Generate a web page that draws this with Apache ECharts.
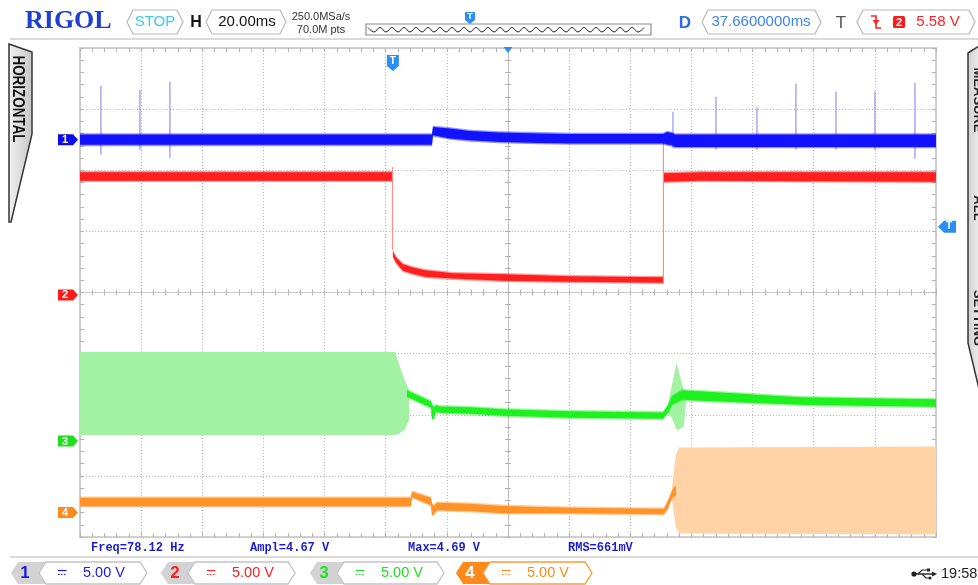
<!DOCTYPE html>
<html>
<head>
<meta charset="utf-8">
<title>RIGOL capture</title>
<script src="https://cdn.jsdelivr.net/npm/echarts@6/dist/echarts.min.js"></script>
<style>
html,body{margin:0;padding:0;background:#ffffff;overflow:hidden;}
#chart{width:978px;height:585px;}
</style>
</head>
<body>
<div id="chart"></div>
<script>
// ---------------- scope settings ----------------
const timePerDiv = 20;            // ms / div
const timeDivs = 14;
const timeDelay = 37.66;          // ms
const voltDivs = 8;
const chLabels = ['1', '2', '3', '4'];
const chVoltPerDiv = [5, 5, 5, 5];
const chOffsetV = [12.5, -0.2, -12.15, -18.0];
const triggerLevel = 5.58;        // V on CH2
const measureLabels = ['Freq=78.12 Hz', 'Ampl=4.67 V', 'Max=4.69 V', 'RMS=661mV'];
const chScaleLabels = ['5.00 V', '5.00 V', '5.00 V', '5.00 V'];

// ---------------- waveform envelopes (time ms, upper V, lower V) ----------------
// CH1
const ch1T  = [-102.35, 12.79, 13.12, 18.7, 25.2, 35.0, 48.1, 58.0, 88.4, 89.7, 91.3, 92.3, 177.65];
const ch1Hi = [0.53, 0.53, 1.15, 1.02, 0.82, 0.70, 0.62, 0.57, 0.57, 0.74, 0.65, 0.53, 0.53];
const ch1Lo = [-0.53, -0.53, 0.25, 0.0, -0.16, -0.29, -0.37, -0.41, -0.41, -0.49, -0.57, -0.70, -0.70];
const ch1SpikeT  = [-95.48, -82.73, -72.92, 91.62, 105.69, 119.10, 131.85, 144.94, 157.69, 170.78];
const ch1SpikeHi = [4.42, 4.09, 4.74, 2.29, 3.52, 2.62, 4.58, 3.93, 3.93, 4.66];
const ch1SpikeLo = [-1.23, -0.82, -1.47, -0.65, -0.82, -0.82, -0.82, -0.82, -0.82, -1.55];
// CH2
const ch2T  = [-102.35, -0.29, 0.03, 1.01, 3.30, 6.25, 10.5, 19.66, 36.0, 57.9, 88.35, 88.68, 100.5, 177.65];
const ch2Hi = [10.14, 10.14, 3.68, 3.19, 2.62, 2.37, 2.13, 1.88, 1.80, 1.64, 1.55, 10.06, 10.14, 10.14];
const ch2Lo = [9.24, 9.24, 3.03, 2.54, 1.88, 1.64, 1.39, 1.23, 1.06, 0.98, 0.90, 9.16, 9.24, 9.16];
const ch2EdgeT  = [-0.13, 88.5];
const ch2EdgeHi = [10.47, 12.84];
const ch2EdgeLo = [3.68, 0.90];
// CH3
const ch3PaleT  = [-102.35, 0.69, 2.0, 4.0, 5.3];
const ch3PaleHi = [7.28, 7.28, 6.30, 4.91, 4.17];
const ch3PaleLo = [0.49, 0.49, 0.57, 0.98, 1.72];
const ch3T  = [4.61, 8.86, 12.46, 12.79, 13.44, 14.1, 15.41, 25.22, 36.0, 57.9, 88.35, 90.0, 91.3, 94.6, 100.5, 116.8, 133.2, 152.8, 177.65];
const ch3Hi = [4.25, 3.76, 3.35, 3.11, 2.86, 3.03, 2.94, 2.86, 2.70, 2.54, 2.45, 3.03, 3.76, 4.25, 4.17, 3.93, 3.68, 3.60, 3.52];
const ch3Lo = [3.52, 3.03, 2.62, 1.72, 1.72, 2.29, 2.21, 2.13, 1.96, 1.80, 1.72, 2.21, 2.86, 3.27, 3.19, 3.03, 2.86, 2.78, 2.70];
const ch3BurstT  = [90.0, 91.3, 92.8, 93.9, 95.2, 95.9];
const ch3BurstHi = [3.03, 4.58, 6.38, 5.32, 4.17, 4.17];
const ch3BurstLo = [2.21, 1.88, 0.90, 0.98, 1.23, 3.19];
// CH4
const ch4T  = [-102.35, 5.92, 6.25, 12.46, 12.79, 13.44, 14.4, 25.22, 36.0, 57.9, 88.68, 90.0, 91.3, 92.6];
const ch4Hi = [1.31, 1.31, 1.80, 1.31, 0.82, 0.65, 0.90, 0.82, 0.65, 0.49, 0.41, 1.06, 1.88, 2.29];
const ch4Lo = [0.41, 0.41, 1.15, 0.49, -0.33, -0.25, 0.08, 0.0, -0.16, -0.16, -0.25, 0.25, 1.06, 1.31];
const ch4PaleT  = [91.3, 91.96, 92.6, 93.6, 177.65];
const ch4PaleHi = [2.04, 3.52, 4.74, 5.32, 5.40];
const ch4PaleLo = [1.06, -0.16, -1.23, -1.72, -1.80];

// ---------------- styling ----------------
const chColors = ['#1212ff', '#ff1f1f', '#1ff01f', '#ff9328'];
const chPale = ['#9090ff', '#ff8c8c', '#a3f1a3', '#ffd3a5'];
const chMarkColors = ['#0a0aee', '#ff1a1a', '#20dd20', '#ff8c1a'];
const chTextColors = ['#1a1ae0', '#ff2020', '#22e022', '#ff8c1a'];
const UI_FONT = '"Liberation Sans", Arial, sans-serif';

const tMin = timeDelay - timePerDiv * timeDivs / 2;
const tMax = timeDelay + timePerDiv * timeDivs / 2;

const chart = echarts.init(document.getElementById('chart'), null, {renderer: 'canvas'});

function borderAxis(pos, half, split) {
  return {
    type: 'value', position: pos, min: -half, max: half, interval: 1,
    axisLabel: {show: false},
    axisLine: {show: true, onZero: false, lineStyle: {color: '#c4c4c4', width: 1.6}},
    axisTick: {show: true, inside: true, length: 4, lineStyle: {color: '#b2b2b2', width: 1}},
    minorTick: {show: true, splitNumber: 5, length: 4, lineStyle: {color: '#b2b2b2', width: 1}},
    splitLine: {show: split, lineStyle: {color: '#b8b8b8', type: [1, 2], width: 1}},
    minorSplitLine: {show: false}
  };
}
function centerAxis(pos, half, inside) {
  return {
    type: 'value', position: pos, min: -half, max: half, interval: 1,
    axisLabel: {show: false},
    axisLine: {show: true, onZero: true, onZeroAxisIndex: 0, lineStyle: {color: '#b8b8b8', type: [1, 2], width: 1}},
    axisTick: {show: true, inside: inside, length: 3, lineStyle: {color: '#b2b2b2', width: 1}},
    minorTick: {show: true, splitNumber: 5, length: 3, lineStyle: {color: '#b2b2b2', width: 1}},
    splitLine: {show: false}
  };
}
function chAxis(k) {
  const s = chVoltPerDiv[k], o = chOffsetV[k];
  return {type: 'value', min: -voltDivs / 2 * s - o, max: voltDivs / 2 * s - o, show: false,
          axisLine: {onZero: false}};
}

function bandSeries(T, HI, LO, yi, color, opt) {
  opt = opt || {};
  return {
    type: 'custom', coordinateSystem: 'cartesian2d', xAxisIndex: 4, yAxisIndex: yi,
    silent: true, animation: false, z: opt.z || 3, clip: true,
    data: T.map((t, i) => [t, HI[i], LO[i]]),
    renderItem: function (params, api) {
      if (params.dataIndex !== 0) return null;
      const up = T.map((t, i) => api.coord([t, HI[i]]));
      const dn = T.map((t, i) => api.coord([t, LO[i]]));
      const children = [];
      const ins = opt.inset || 0;
      if (opt.fringe) {
        children.push({type: 'polygon', shape: {points: up.concat(dn.slice().reverse())},
                       style: {fill: color, opacity: opt.fringe}});
      }
      const iu = up.map((p, i) => { const m = (p[1] + dn[i][1]) / 2; return [p[0], Math.min(p[1] + ins, m)]; });
      const id = dn.map((p, i) => { const m = (p[1] + up[i][1]) / 2; return [p[0], Math.max(p[1] - ins, m)]; });
      children.push({type: 'polygon', shape: {points: iu.concat(id.reverse())}, style: {fill: opt.core || color}});
      return {type: 'group', children: children};
    }
  };
}
function spikeSeries(T, HI, LO, yi, color, width, z) {
  return {
    type: 'custom', coordinateSystem: 'cartesian2d', xAxisIndex: 4, yAxisIndex: yi,
    silent: true, animation: false, z: z,
    data: T.map((t, i) => [t, HI[i], LO[i]]),
    renderItem: function (params, api) {
      const a = api.coord([api.value(0), api.value(1)]);
      const b = api.coord([api.value(0), api.value(2)]);
      return {type: 'line', shape: {x1: a[0], y1: a[1], x2: b[0], y2: b[1]},
              style: {stroke: color, lineWidth: width}};
    }
  };
}

const option = {
  backgroundColor: '#ffffff',
  animation: false,
  grid: {left: 80, top: 48, width: 856, height: 489, containLabel: false, outerBoundsMode: 'none'},
  xAxis: [
    borderAxis('bottom', timeDivs / 2, true),
    borderAxis('top', timeDivs / 2, false),
    centerAxis('bottom', timeDivs / 2, true),
    centerAxis('bottom', timeDivs / 2, false),
    {type: 'value', min: tMin, max: tMax, show: false, axisLine: {onZero: false}}
  ],
  yAxis: [
    borderAxis('left', voltDivs / 2, true),
    borderAxis('right', voltDivs / 2, false),
    centerAxis('left', voltDivs / 2, true),
    centerAxis('left', voltDivs / 2, false),
    chAxis(0), chAxis(1), chAxis(2), chAxis(3)
  ],
  series: [
    bandSeries(ch4PaleT, ch4PaleHi, ch4PaleLo, 7, chPale[3], {z: 2}),
    bandSeries(ch4T, ch4Hi, ch4Lo, 7, chColors[3], {z: 3, fringe: 0.45, inset: 1.3}),
    bandSeries(ch3PaleT, ch3PaleHi, ch3PaleLo, 6, chPale[2], {z: 2}),
    bandSeries(ch3BurstT, ch3BurstHi, ch3BurstLo, 6, chPale[2], {z: 2}),
    bandSeries(ch3T, ch3Hi, ch3Lo, 6, chColors[2], {z: 3, fringe: 0.45, inset: 1.3}),
    bandSeries(ch2T, ch2Hi, ch2Lo, 5, chColors[1], {z: 4, fringe: 0.45, inset: 1.3}),
    spikeSeries(ch2EdgeT, ch2EdgeHi, ch2EdgeLo, 5, chPale[1], 1.2, 4),
    spikeSeries(ch1SpikeT, ch1SpikeHi, ch1SpikeLo, 4, chPale[0], 1.2, 5),
    bandSeries(ch1T, ch1Hi, ch1Lo, 4, chColors[0], {z: 6, fringe: 0.45, inset: 1.3})
  ]
};
chart.setOption(option);

// ---------------- screen furniture ----------------
function hex(x0, y0, x1, y1, tip, stroke, fill, lw) {
  const ym = (y0 + y1) / 2;
  return {type: 'polygon', z: 100,
    shape: {points: [[x0, ym], [x0 + tip, y0], [x1 - tip, y0], [x1, ym], [x1 - tip, y1], [x0 + tip, y1]]},
    style: {fill: fill || '#ffffff', stroke: stroke, lineWidth: lw || 1.2}};
}
function txt(x, y, text, font, fill, align, extra) {
  const e = {type: 'text', z: 101, x: x, y: y,
    style: {text: text, font: font, fill: fill, align: align || 'left', verticalAlign: 'middle'}};
  return Object.assign(e, extra || {});
}
function line(x1, y1, x2, y2, stroke, w, dash) {
  return {type: 'line', z: 101, shape: {x1: x1, y1: y1, x2: x2, y2: y2},
    style: {stroke: stroke, lineWidth: w || 1, lineDash: dash || null}};
}
function poly(points, fill, stroke, lw) {
  return {type: 'polygon', z: 100, shape: {points: points}, style: {fill: fill, stroke: stroke || null, lineWidth: lw || 1}};
}

const G = [];
// top bar
G.push(txt(25, 21, 'RIGOL', 'bold 26px "Liberation Serif", serif', '#1f3ed2'));
G.push(hex(127, 10, 183, 34, 6, '#b9b9b9'));
G.push(txt(155, 22, 'STOP', '15px ' + UI_FONT, '#3ccaf2', 'center'));
G.push(txt(196, 23, 'H', 'bold 16px ' + UI_FONT, '#111111', 'center'));
G.push(hex(206, 10, 286, 34, 6, '#b9b9b9'));
G.push(txt(247, 22, '20.00ms', '15px ' + UI_FONT, '#111111', 'center'));
G.push(txt(321, 16.5, '250.0MSa/s', '11px ' + UI_FONT, '#333333', 'center'));
G.push(txt(321, 30, '70.0M pts', '11px ' + UI_FONT, '#333333', 'center'));
G.push({type: 'rect', z: 100, shape: {x: 366, y: 24, width: 285, height: 11}, style: {fill: '#ffffff', stroke: '#8c8c8c', lineWidth: 1.2}});
(function () {
  const pts = [];
  for (let x = 368, k = 0; x <= 649; x += 6, k++) pts.push([x, k % 2 ? 32 : 27.5]);
  G.push({type: 'polyline', z: 101, shape: {points: pts, smooth: 0.4}, style: {stroke: '#222222', lineWidth: 1, fill: null}});
})();
G.push(poly([[465, 12], [475, 12], [475, 20], [470, 24], [465, 20]], '#2a8ff0'));
G.push(txt(470, 17, 'T', 'bold 9px ' + UI_FONT, '#ffffff', 'center'));
G.push(txt(685, 23, 'D', 'bold 17px ' + UI_FONT, '#2a6ae8', 'center'));
G.push(hex(702, 10, 821, 34, 6, '#b9b9b9'));
G.push(txt(761, 22, '37.6600000ms', '15px ' + UI_FONT, '#3a84f0', 'center'));
G.push(txt(841, 23, 'T', '17px ' + UI_FONT, '#555555', 'center'));
G.push(hex(857, 10, 975, 34, 6, '#b9b9b9'));
G.push({type: 'polyline', z: 101, shape: {points: [[871, 16], [876, 16], [876, 28], [881, 28]]}, style: {stroke: '#ff2020', lineWidth: 1.6, fill: null}});
G.push(poly([[872.5, 20], [879.5, 20], [876, 25]], '#ff2020'));
G.push({type: 'rect', z: 100, shape: {x: 893, y: 16, width: 12, height: 12, r: 1.5}, style: {fill: '#ff1a1a'}});
G.push(txt(899, 22.5, '2', 'bold 11px ' + UI_FONT, '#ffffff', 'center'));
G.push(txt(938, 22, triggerLevel.toFixed(2) + ' V', '15px ' + UI_FONT, '#ff2020', 'center'));
G.push(line(10, 39, 978, 39, '#dadada', 2));

// side tabs
G.push(poly([[9, 44], [32, 52], [32, 134], [11, 222], [9, 222]],
  new echarts.graphic.LinearGradient(0, 0, 1, 0, [{offset: 0, color: '#f2f2f2'}, {offset: 1, color: '#c6c6c6'}]), '#333333', 1.5));
G.push(txt(17.5, 99, 'HORIZONTAL', 'bold 16px ' + UI_FONT, '#111111', 'center', {rotation: -Math.PI / 2, scaleX: 0.84, scaleY: 1}));
G.push(poly([[979, 46], [968, 53], [968, 343], [979, 389]],
  new echarts.graphic.LinearGradient(0, 0, 1, 0, [{offset: 0, color: '#cfcfcf'}, {offset: 1, color: '#eeeeee'}]), '#333333', 1.5));
G.push(txt(978, 100, 'MEASURE', 'bold 13px ' + UI_FONT, '#222222', 'center', {rotation: -Math.PI / 2}));
G.push(txt(978, 208, 'ALL', 'bold 13px ' + UI_FONT, '#222222', 'center', {rotation: -Math.PI / 2}));
G.push(txt(978, 318, 'SETTING', 'bold 13px ' + UI_FONT, '#222222', 'center', {rotation: -Math.PI / 2}));

// measurements
const measX = [91, 250, 408, 568];
measureLabels.forEach((m, i) => G.push(txt(measX[i], 548, m, 'bold 12px "Liberation Mono", monospace', '#1c1cd0')));
G.push(line(10, 557, 978, 557, '#dadada', 2));

// channel boxes
const tabX = [11, 161, 310, 456];
const boxX0 = [39, 188, 337, 483];
const boxX1 = [147, 295, 444, 592];
chLabels.forEach((lab, k) => {
  const sel = k === 3;
  const tx = tabX[k];
  G.push(poly([[tx, 573], [tx + 7, 562], [tx + 36, 562], [tx + 36, 584], [tx + 7, 584]], sel ? '#ff8a1a' : '#d3d3d3'));
  G.push(txt(tx + 14, 573.5, lab, 'bold 17px ' + UI_FONT, sel ? '#ffffff' : chTextColors[k], 'center'));
  G.push(hex(boxX0[k], 562, boxX1[k], 584, 7, sel ? '#ff9a33' : '#c4c4c4', '#ffffff', 1.3));
  const dx = boxX0[k] + 19;
  G.push(line(dx, 570.5, dx + 8.5, 570.5, chTextColors[k], 1.2));
  G.push(line(dx, 574.5, dx + 8.5, 574.5, chTextColors[k], 1.2, [1.5, 1.5]));
  G.push(txt(boxX0[k] + 44, 573, chScaleLabels[k], '14.5px ' + UI_FONT, chTextColors[k], 'left'));
});
// usb + clock
G.push({type: 'circle', z: 101, shape: {cx: 914, cy: 574, r: 2.6}, style: {fill: '#222222'}});
G.push(line(914, 574, 933, 574, '#222222', 1.4));
G.push({type: 'polyline', z: 101, shape: {points: [[918, 574], [922, 570], [928, 570]]}, style: {stroke: '#222222', lineWidth: 1.2, fill: null}});
G.push({type: 'rect', z: 101, shape: {x: 927, y: 568.5, width: 3, height: 3}, style: {fill: '#222222'}});
G.push({type: 'polyline', z: 101, shape: {points: [[922, 574], [926, 578], [929, 578]]}, style: {stroke: '#222222', lineWidth: 1.2, fill: null}});
G.push({type: 'circle', z: 101, shape: {cx: 930, cy: 578, r: 1.5}, style: {fill: '#222222'}});
G.push(poly([[932, 571.5], [937, 574], [932, 576.5]], '#222222'));
G.push(txt(941, 573.5, '19:58', '14.5px ' + UI_FONT, '#222222', 'left'));

// markers positioned through the axes
const trigX = chart.convertToPixel({xAxisIndex: 4}, 0);
const centerX = chart.convertToPixel({xAxisIndex: 4}, timeDelay);
const trigY = chart.convertToPixel({yAxisIndex: 5}, triggerLevel);
G.push(poly([[trigX - 6, 55], [trigX + 6, 55], [trigX + 6, 66], [trigX, 71], [trigX - 6, 66]], '#2a8ff0'));
G.push(txt(trigX, 61, 'T', 'bold 10px ' + UI_FONT, '#ffffff', 'center'));
G.push(poly([[centerX - 4.5, 47], [centerX + 4.5, 47], [centerX, 53]], '#2a8ff0'));
G.push(poly([[956, trigY - 6], [956, trigY + 6], [944, trigY + 6], [938, trigY], [944, trigY - 6]], '#2a8ff0'));
G.push(txt(949, trigY, 'T', 'bold 10px ' + UI_FONT, '#ffffff', 'center'));
chLabels.forEach((lab, k) => {
  const y = chart.convertToPixel({yAxisIndex: 4 + k}, 0);
  G.push(poly([[58, y - 5.5], [73, y - 5.5], [78, y], [73, y + 5.5], [58, y + 5.5]], chMarkColors[k]));
  G.push(txt(65, y + 0.5, lab, 'bold 11px ' + UI_FONT, '#ffffff', 'center'));
});

chart.setOption({graphic: {elements: G}});
</script>
</body>
</html>
